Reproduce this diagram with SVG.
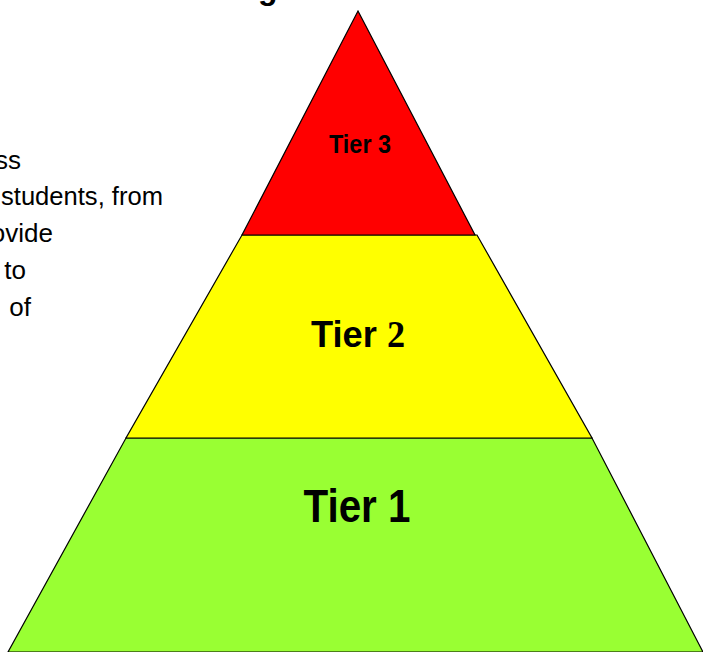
<svg xmlns="http://www.w3.org/2000/svg" width="703" height="652" viewBox="0 0 703 652">
  <style>
    .tier { stroke: #000; stroke-width: 1.2; stroke-linejoin: miter; }
    .lbl { font-family: "Liberation Sans", Arial, sans-serif; font-weight: bold; fill: #000; text-anchor: middle; }
    .body { font-family: "Liberation Sans", Arial, sans-serif; font-size: 26px; fill: #000; text-anchor: end; }
  </style>
  <rect width="703" height="652" fill="#fff"/>
  <text x="258" y="-1" font-family="Liberation Sans, Arial, sans-serif" font-weight="bold" font-size="32">g</text>
  <g id="side-text">
    <text class="body" x="21" y="169">ss</text>
    <text class="body" x="163" y="205" textLength="162" lengthAdjust="spacingAndGlyphs">students, from</text>
    <text class="body" x="53" y="242">ovide</text>
    <text class="body" x="26" y="279">to</text>
    <text class="body" x="31" y="316">of</text>
  </g>
  <g id="tier1">
    <polygon class="tier" points="126,438 592,438 703,652 8,652" fill="#99FF33"/>
    <text class="lbl" x="357" y="522" font-size="47" textLength="107" lengthAdjust="spacingAndGlyphs">Tier 1</text>
  </g>
  <g id="tier2">
    <polygon class="tier" points="242,235 477,235 592,438 126,438" fill="#FFFF00"/>
    <text class="lbl" x="358" y="347" font-size="37" textLength="94" lengthAdjust="spacingAndGlyphs">Tier <tspan font-family="Liberation Serif, Times New Roman, serif">2</tspan></text>
  </g>
  <g id="tier3">
    <polygon class="tier" points="358,11 475,235 242,235" fill="#FF0000"/>
    <text class="lbl" x="360" y="153" font-size="25" textLength="62" lengthAdjust="spacingAndGlyphs">Tier 3</text>
  </g>
</svg>
